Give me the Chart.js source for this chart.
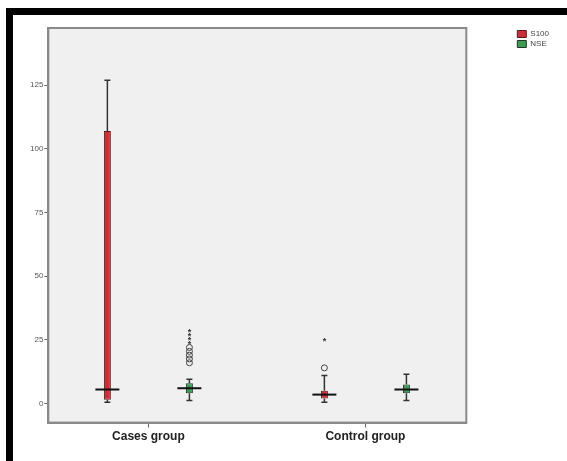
<!DOCTYPE html>
<html>
<head>
<meta charset="utf-8">
<script src="https://cdn.jsdelivr.net/npm/chart.js@4"></script>
<style>
  html, body { margin: 0; padding: 0; background: #fff; }
  #wrap { width: 567px; height: 461px; position: relative; }
</style>
</head>
<body>
<div id="wrap"><canvas id="boxChart"></canvas></div>
<script>
// groups and box statistics
const categories = ['Cases group', 'Control group'];
const seriesNames = ['S100', 'NSE'];

const s100Min = [0.5, 0.5];
const s100Q1 = [1.5, 2];
const s100Median = [5.5, 3.5];
const s100Q3 = [107, 5];
const s100Max = [127, 11];
const s100Circles = [[], [14]];
const s100Stars = [[], [25]];

const nseMin = [1.2, 1.2];
const nseQ1 = [4, 4];
const nseMedian = [6, 5.5];
const nseQ3 = [8, 7.5];
const nseMax = [9.5, 11.5];
const nseCircles = [[16, 17.5, 19, 20.5, 22], []];
const nseStars = [[24, 25.5, 27, 28.5], []];

const yTicks = [0, 25, 50, 75, 100, 125];

const stats = [
    { min: s100Min, med: s100Median, max: s100Max, circ: s100Circles, star: s100Stars },
    { min: nseMin, med: nseMedian, max: nseMax, circ: nseCircles, star: nseStars }
];

// frame, plot background and the black border of the picture
const framePlugin = {
    id: 'frame',
    afterLayout(chart) {
        // leave a gap between the plot and the legend
        chart.legend.left += 49;
        chart.legend.right += 49;
    },
    beforeDraw(chart) {
        const { ctx, chartArea: a } = chart;
        ctx.save();
        ctx.fillStyle = '#000';
        ctx.fillRect(6, 8, 561, 7);
        ctx.fillRect(6, 8, 7, 453);
        ctx.fillStyle = '#f0f0f0';
        ctx.fillRect(a.left, a.top, a.right - a.left, a.bottom - a.top);
        ctx.restore();
    },
    afterDraw(chart) {
        const { ctx, chartArea: a } = chart;
        ctx.save();
        ctx.strokeStyle = '#8a8a8a';
        ctx.lineWidth = 2;
        ctx.strokeRect(a.left, a.top, a.right - a.left, a.bottom - a.top);
        ctx.restore();
    }
};

// whiskers, medians and outliers, placed with the chart's scales
const boxPlugin = {
    id: 'boxParts',
    afterDatasetsDraw(chart) {
        const { ctx } = chart;
        const y = chart.scales.y;
        ctx.save();
        stats.forEach((s, di) => {
            const meta = chart.getDatasetMeta(di);
            meta.data.forEach((bar, i) => {
                const x = bar.x;
                const top = bar.y, bottom = bar.base;
                const yMax = y.getPixelForValue(s.max[i]);
                const yMin = y.getPixelForValue(s.min[i]);
                ctx.strokeStyle = '#333';
                ctx.lineWidth = 1.5;
                ctx.beginPath();
                ctx.moveTo(x, Math.min(top, bottom));
                ctx.lineTo(x, yMax);
                ctx.moveTo(x - 3, yMax);
                ctx.lineTo(x + 3, yMax);
                ctx.moveTo(x, Math.max(top, bottom));
                ctx.lineTo(x, yMin);
                ctx.moveTo(x - 3, yMin);
                ctx.lineTo(x + 3, yMin);
                ctx.stroke();

                const yMed = y.getPixelForValue(s.med[i]);
                ctx.strokeStyle = '#111';
                ctx.lineWidth = 2;
                ctx.beginPath();
                ctx.moveTo(x - 12, yMed);
                ctx.lineTo(x + 12, yMed);
                ctx.stroke();

                ctx.lineWidth = 1;
                ctx.strokeStyle = '#444';
                s.circ[i].forEach(v => {
                    ctx.beginPath();
                    ctx.arc(x, y.getPixelForValue(v), 3, 0, Math.PI * 2);
                    ctx.stroke();
                });
                ctx.fillStyle = '#333';
                ctx.font = 'bold 9px "Liberation Sans"';
                ctx.textAlign = 'center';
                ctx.textBaseline = 'middle';
                s.star[i].forEach(v => {
                    ctx.fillText('*', x, y.getPixelForValue(v) + 2);
                });
            });
        });
        ctx.restore();
    }
};

new Chart(document.getElementById('boxChart'), {
    type: 'bar',
    data: {
        datasets: [{
            label: seriesNames[0],
            data: s100Q1.map((q, i) => ({ x: i + 1, y: [q, s100Q3[i]] })),
            backgroundColor: '#c9303a',
            borderColor: '#5a1a1a',
            borderWidth: 1,
            borderSkipped: false
        }, {
            label: seriesNames[1],
            data: nseQ1.map((q, i) => ({ x: i + 1, y: [q, nseQ3[i]] })),
            backgroundColor: '#3f9a55',
            borderColor: '#1e3a24',
            borderWidth: 1,
            borderSkipped: false
        }]
    },
    options: {
        responsive: true,
        maintainAspectRatio: false,
        animation: false,
        categoryPercentage: 0.756,
        barPercentage: 0.085,
        layout: { padding: { top: 28, left: 29, right: 57, bottom: 15 } },
        plugins: {
            tooltip: { enabled: false },
            legend: {
                position: 'right',
                align: 'start',
                labels: {
                    boxWidth: 9,
                    boxHeight: 7,
                    padding: 2,
                    color: '#444',
                    font: { family: 'Liberation Sans', size: 8 }
                }
            }
        },
        scales: {
            x: {
                type: 'linear',
                offset: false,
                min: 0.539,
                max: 2.465,
                afterBuildTicks(axis) {
                    axis.ticks = categories.map((c, i) => ({ value: i + 1 }));
                },
                grid: { offset: false, drawOnChartArea: false, drawTicks: true, tickLength: 5, color: '#666' },
                border: { color: '#8a8a8a', width: 2 },
                ticks: {
                    padding: 2,
                    color: '#222',
                    font: { family: 'Liberation Sans', size: 12, weight: 'bold' },
                    callback: v => categories[v - 1]
                }
            },
            y: {
                min: -7.5,
                max: 147.5,
                afterBuildTicks(axis) {
                    axis.ticks = yTicks.map(v => ({ value: v }));
                },
                grid: { drawOnChartArea: false, drawTicks: true, tickLength: 4, color: '#666' },
                border: { color: '#8a8a8a', width: 2 },
                ticks: {
                    padding: 1,
                    color: '#555',
                    font: { family: 'Liberation Sans', size: 8 }
                }
            }
        }
    },
    plugins: [framePlugin, boxPlugin]
});
</script>
</body>
</html>
